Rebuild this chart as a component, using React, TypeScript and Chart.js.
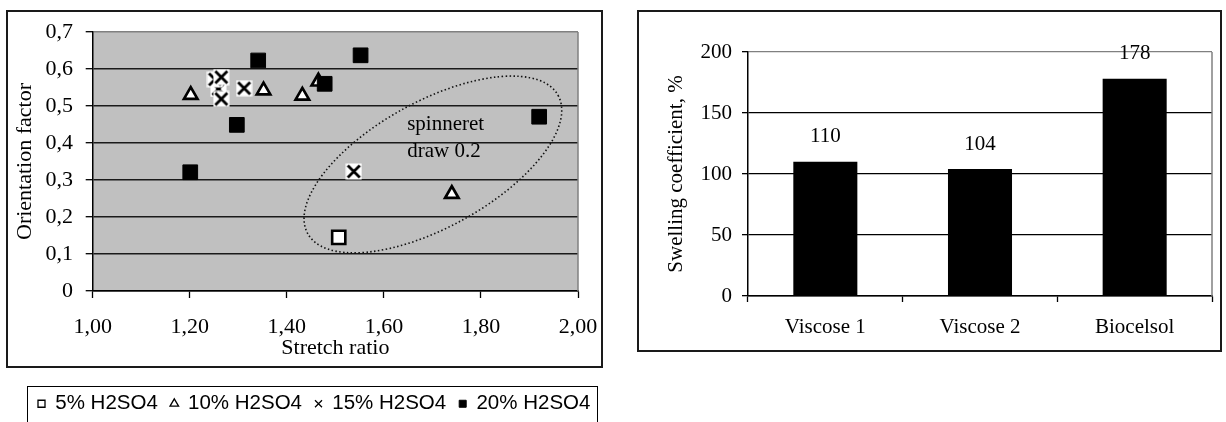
import React, { useEffect, useRef } from 'react';
import { Chart, registerables } from 'chart.js';

Chart.register(...registerables);

const SERIF = '"Liberation Serif", "Times New Roman", serif';
const SANS = '"Liberation Sans", Arial, sans-serif';

// ---------- Left chart data ----------
const X_TICK_LABELS = ['1,00', '1,20', '1,40', '1,60', '1,80', '2,00'];
const Y_TICK_LABELS = ['0', '0,1', '0,2', '0,3', '0,4', '0,5', '0,6', '0,7'];
const X_TITLE = 'Stretch ratio';
const Y_TITLE = 'Orientation factor';

const SERIES_NAMES = ['5% H2SO4', '10% H2SO4', '15% H2SO4', '20% H2SO4'];

const H2SO4_5_X = [1.507];
const H2SO4_5_Y = [0.145];

const H2SO4_10_X = [1.202, 1.352, 1.432, 1.465, 1.74];
const H2SO4_10_Y = [0.53, 0.542, 0.528, 0.566, 0.262];

const H2SO4_15_X = [1.259, 1.252, 1.265, 1.265, 1.312, 1.538];
const H2SO4_15_Y = [0.546, 0.572, 0.578, 0.519, 0.548, 0.323];

const H2SO4_20_X = [1.341, 1.552, 1.478, 1.297, 1.201, 1.92];
const H2SO4_20_Y = [0.623, 0.637, 0.56, 0.449, 0.321, 0.471];

const ANNOTATION_LINES = ['spinneret', 'draw 0.2'];
const ANNOTATION_X = 1.648;
const ANNOTATION_Y = [0.451, 0.376];
const ELLIPSE_CX = 1.701;
const ELLIPSE_CY = 0.342;

// ---------- Right chart data ----------
const CATEGORIES = ['Viscose 1', 'Viscose 2', 'Biocelsol'];
const SWELLING = [110, 104, 178];
const SWELL_TICK_LABELS = ['0', '50', '100', '150', '200'];
const SWELL_TITLE = 'Swelling coefficient, %';

const pts = (xs: number[], ys: number[]) => xs.map((x, i) => ({ x, y: ys[i] }));

function makeCrossMarker(): HTMLCanvasElement {
  const c = document.createElement('canvas');
  c.width = 17;
  c.height = 17;
  const g = c.getContext('2d')!;
  g.fillStyle = '#fff';
  g.fillRect(0.5, 0.5, 16, 16);
  g.strokeStyle = '#000';
  g.lineWidth = 2.8;
  g.beginPath();
  g.moveTo(2.5, 2.5);
  g.lineTo(14.5, 14.5);
  g.moveTo(14.5, 2.5);
  g.lineTo(2.5, 14.5);
  g.stroke();
  return c;
}

const LEFT_PLOT_BOTTOM = 291;
const RIGHT_PLOT_BOTTOM = 296;

export default function App() {
  const leftRef = useRef<HTMLCanvasElement>(null);
  const rightRef = useRef<HTMLCanvasElement>(null);

  useEffect(() => {
    const cross = makeCrossMarker();

    const leftPlugin = {
      id: 'leftDecor',
      beforeDraw(chart: any) {
        const { ctx, chartArea: a } = chart;
        ctx.save();
        ctx.fillStyle = '#c0c0c0';
        ctx.fillRect(a.left, a.top, a.width, a.height);
        ctx.restore();
      },
      beforeDatasetsDraw(chart: any) {
        const { ctx, chartArea: a, scales } = chart;
        ctx.save();
        ctx.strokeStyle = '#808080';
        ctx.lineWidth = 1.5;
        ctx.beginPath();
        ctx.moveTo(a.right, a.top);
        ctx.lineTo(a.right, a.bottom);
        ctx.stroke();
        const cx = scales.x.getPixelForValue(ELLIPSE_CX);
        const cy = scales.y.getPixelForValue(ELLIPSE_CY);
        ctx.strokeStyle = '#111';
        ctx.lineWidth = 1.6;
        ctx.setLineDash([1.5, 2.4]);
        ctx.beginPath();
        ctx.ellipse(cx, cy, 0.2947 * a.width, 0.243 * a.height, (-28.9 * Math.PI) / 180, 0, Math.PI * 2);
        ctx.stroke();
        ctx.setLineDash([]);
        ctx.fillStyle = '#000';
        ctx.font = `21px ${SERIF}`;
        ctx.textAlign = 'left';
        ctx.textBaseline = 'middle';
        const tx = scales.x.getPixelForValue(ANNOTATION_X);
        ANNOTATION_LINES.forEach((t, i) => {
          ctx.fillText(t, tx, scales.y.getPixelForValue(ANNOTATION_Y[i]));
        });
        ctx.restore();
      },
      afterDraw(chart: any) {
        const { ctx } = chart;
        ctx.save();
        ctx.strokeStyle = '#1a1a1a';
        ctx.lineWidth = 2;
        ctx.strokeRect(7, 11, 595, 356);
        ctx.lineWidth = 1;
        ctx.strokeStyle = '#000';
        ctx.strokeRect(27.5, 386.5, 570, 60);
        ctx.restore();
      },
    };

    const legendItems = [
      { text: SERIES_NAMES[0], pointStyle: 'rect', fillStyle: '#fff', strokeStyle: '#000', lineWidth: 1.3, hidden: false, datasetIndex: 0, fontColor: '#000' },
      { text: SERIES_NAMES[1], pointStyle: 'triangle', fillStyle: '#fff', strokeStyle: '#000', lineWidth: 1.3, hidden: false, datasetIndex: 1, fontColor: '#000' },
      { text: SERIES_NAMES[2], pointStyle: 'crossRot', fillStyle: '#000', strokeStyle: '#000', lineWidth: 1.3, hidden: false, datasetIndex: 2, fontColor: '#000' },
      { text: SERIES_NAMES[3], pointStyle: 'rect', fillStyle: '#000', strokeStyle: '#000', lineWidth: 1, hidden: false, datasetIndex: 3, fontColor: '#000' },
    ];

    const left = new Chart(leftRef.current!, {
      type: 'scatter',
      data: {
        datasets: [
          {
            label: SERIES_NAMES[0],
            data: pts(H2SO4_5_X, H2SO4_5_Y),
            pointStyle: 'rect',
            pointRadius: 9.3,
            backgroundColor: '#fff',
            borderColor: '#000',
            borderWidth: 2.6,
            order: 3,
          },
          {
            label: SERIES_NAMES[1],
            data: pts(H2SO4_10_X, H2SO4_10_Y),
            pointStyle: 'triangle',
            pointRadius: 7.8,
            backgroundColor: '#fff',
            borderColor: '#000',
            borderWidth: 2.7,
            order: 2,
          },
          {
            label: SERIES_NAMES[2],
            data: pts(H2SO4_15_X, H2SO4_15_Y),
            pointStyle: cross as any,
            pointRadius: 8.5,
            backgroundColor: '#fff',
            borderColor: '#000',
            order: 0,
          },
          {
            label: SERIES_NAMES[3],
            data: pts(H2SO4_20_X, H2SO4_20_Y),
            pointStyle: 'rect',
            pointRadius: 10.4,
            backgroundColor: '#000',
            borderColor: '#000',
            borderWidth: 1,
            order: 1,
          },
        ],
      },
      options: {
        responsive: false,
        maintainAspectRatio: false,
        animation: false,
        layout: { padding: { left: 25, top: 32, right: 0, bottom: 0 } },
        plugins: {
          tooltip: { enabled: false },
          legend: {
            position: 'bottom',
            align: 'start',
            labels: {
              usePointStyle: true,
              boxWidth: 7,
              boxHeight: 7,
              padding: 13,
              color: '#000',
              font: { family: SANS, size: 20.5, lineHeight: 1 },
              generateLabels: () => legendItems as any,
            },
          },
        },
        scales: {
          x: {
            type: 'linear',
            min: 1,
            max: 2,
            ticks: {
              stepSize: 0.2,
              autoSkip: false,
              maxRotation: 0,
              color: '#000',
              padding: 15.8,
              font: { family: SERIF, size: 22 },
              callback: (_v: any, i: number) => X_TICK_LABELS[i],
            },
            grid: { drawOnChartArea: false, drawTicks: true, tickLength: 7, tickColor: '#000', tickWidth: 1.3 },
            border: { color: '#000', width: 1.5 },
            title: {
              display: true,
              text: X_TITLE,
              color: '#000',
              font: { family: SERIF, size: 22 },
              padding: { top: 0, bottom: 19.3 },
            },
            afterFit: (s: any) => {
              s.height = s.chart.height - s.chart.legend.height - LEFT_PLOT_BOTTOM;
              s.paddingRight = 34;
              s.paddingLeft = 0;
            },
          },
          y: {
            type: 'linear',
            min: 0,
            max: 0.7,
            ticks: {
              stepSize: 0.1,
              color: '#000',
              padding: 12.7,
              font: { family: SERIF, size: 22 },
              callback: (_v: any, i: number) => Y_TICK_LABELS[i],
            },
            grid: {
              color: (c: any) => (c.index === Y_TICK_LABELS.length - 1 ? '#808080' : '#1a1a1a'),
              lineWidth: 1.4,
              tickLength: 7,
              tickColor: '#000',
              tickWidth: 1.3,
            },
            border: { color: '#000', width: 1.5 },
            title: {
              display: true,
              text: Y_TITLE,
              color: '#000',
              font: { family: SERIF, size: 22 },
              padding: { top: -13.2, bottom: 0 },
            },
            afterFit: (s: any) => {
              s.width = 67.7;
            },
          },
        },
      },
      plugins: [leftPlugin],
    } as any);

    const rightPlugin = {
      id: 'rightDecor',
      beforeDatasetsDraw(chart: any) {
        const { ctx, chartArea: a } = chart;
        ctx.save();
        ctx.strokeStyle = '#808080';
        ctx.lineWidth = 1.5;
        ctx.beginPath();
        ctx.moveTo(a.right, a.top);
        ctx.lineTo(a.right, a.bottom);
        ctx.stroke();
        ctx.restore();
      },
      afterDatasetsDraw(chart: any) {
        const { ctx } = chart;
        const meta = chart.getDatasetMeta(0);
        ctx.save();
        ctx.fillStyle = '#000';
        ctx.font = `21px ${SERIF}`;
        ctx.textAlign = 'center';
        ctx.textBaseline = 'middle';
        meta.data.forEach((bar: any, i: number) => {
          ctx.fillText(String(SWELLING[i]), bar.x, bar.y - 25);
        });
        ctx.restore();
      },
      afterDraw(chart: any) {
        const { ctx } = chart;
        ctx.save();
        ctx.strokeStyle = '#1a1a1a';
        ctx.lineWidth = 2;
        ctx.strokeRect(18, 11, 583, 340);
        ctx.restore();
      },
    };

    const right = new Chart(rightRef.current!, {
      type: 'bar',
      data: {
        labels: CATEGORIES,
        datasets: [
          {
            label: SWELL_TITLE,
            data: SWELLING,
            backgroundColor: '#000',
            borderColor: '#000',
            borderWidth: 0,
            barPercentage: 0.414,
            categoryPercentage: 1,
          },
        ],
      },
      options: {
        responsive: false,
        maintainAspectRatio: false,
        animation: false,
        layout: { padding: { left: 44, top: 52, right: 14, bottom: 0 } },
        plugins: { legend: { display: false }, tooltip: { enabled: false } },
        scales: {
          x: {
            ticks: { color: '#000', padding: 12.4, font: { family: SERIF, size: 21 } },
            grid: { drawOnChartArea: false, drawTicks: true, tickLength: 6, tickColor: '#000', tickWidth: 1.3, offset: true },
            border: { color: '#000', width: 1.5 },
            afterFit: (s: any) => {
              s.height = s.chart.height - RIGHT_PLOT_BOTTOM;
            },
          },
          y: {
            min: 0,
            max: 200,
            ticks: {
              stepSize: 50,
              color: '#000',
              padding: 10,
              font: { family: SERIF, size: 21 },
              callback: (_v: any, i: number) => SWELL_TICK_LABELS[i],
            },
            grid: {
              color: (c: any) => (c.index === SWELL_TICK_LABELS.length - 1 ? '#808080' : '#000'),
              lineWidth: 1.3,
              tickLength: 6,
              tickColor: '#000',
              tickWidth: 1.3,
            },
            border: { color: '#000', width: 1.5 },
            title: {
              display: true,
              text: SWELL_TITLE,
              color: '#000',
              font: { family: SERIF, size: 21 },
              padding: { top: 0, bottom: 0 },
            },
            afterFit: (s: any) => {
              s.width = 84;
            },
          },
        },
      },
      plugins: [rightPlugin],
    } as any);

    return () => {
      left.destroy();
      right.destroy();
    };
  }, []);

  return (
    <div
      style={{
        position: 'fixed',
        left: 0,
        top: 0,
        width: 1226,
        height: 422,
        overflow: 'hidden',
        background: '#fff',
      }}
    >
      <canvas
        ref={leftRef}
        width={612}
        height={424}
        style={{ position: 'absolute', left: 0, top: 0, width: 612, height: 424 }}
      />
      <canvas
        ref={rightRef}
        width={606}
        height={422}
        style={{ position: 'absolute', left: 620, top: 0, width: 606, height: 422 }}
      />
    </div>
  );
}
